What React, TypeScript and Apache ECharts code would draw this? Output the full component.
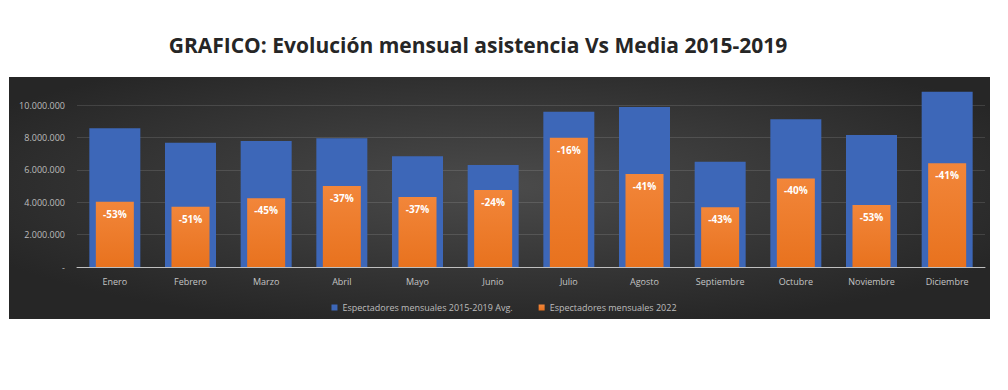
import React, { useEffect, useRef } from "react";
import * as echarts from "echarts";

const months = ["Enero", "Febrero", "Marzo", "Abril", "Mayo", "Junio", "Julio", "Agosto", "Septiembre", "Octubre", "Noviembre", "Diciembre"];
const avg2015_2019 = [8560000, 7670000, 7780000, 7940000, 6830000, 6300000, 9590000, 9880000, 6500000, 9120000, 8150000, 10820000];
const values2022 = [4030000, 3720000, 4240000, 5000000, 4320000, 4750000, 7980000, 5740000, 3690000, 5470000, 3830000, 6400000];
const pctLabels = ["-53%", "-51%", "-45%", "-37%", "-37%", "-24%", "-16%", "-41%", "-43%", "-40%", "-53%", "-41%"];
const seriesNames = ["Espectadores mensuales 2015-2019 Avg.", "Espectadores mensuales 2022"];
const titleText = "GRAFICO: Evolución mensual asistencia Vs Media 2015-2019";

const fmt = (v: number) => {
  if (v === 0) return "-";
  if (v >= 12000000) return "";
  return String(v).replace(/\B(?=(\d{3})+(?!\d))/g, ".");
};

export default function App() {
  const ref = useRef<HTMLDivElement>(null);
  useEffect(() => {
    document.body.style.margin = "0";
    const chart = echarts.init(ref.current!, null, { renderer: "svg" });
    const font = "'Open Sans', 'Liberation Sans', sans-serif";
    const gridCol = "rgba(255,255,255,0.12)";
    chart.setOption({
      animation: false,
      textStyle: { fontFamily: font },
      graphic: [
        {
          type: "rect",
          z: -10,
          silent: true,
          shape: { x: 9, y: 77, width: 981, height: 242 },
          style: {
            fill: new echarts.graphic.RadialGradient(0.5, 0.45, 0.6, [
              { offset: 0, color: "#4b4b4b" },
              { offset: 1, color: "#262626" },
            ]),
          },
        },
        {
          type: "text",
          x: 478,
          y: 45,
          style: {
            text: titleText,
            fontSize: 21,
            fontWeight: "bold",
            fill: "#262626",
            fontFamily: font,
            align: "center",
            verticalAlign: "middle",
          },
        },
      ],
      legend: {
        data: seriesNames,
        left: "center",
        top: 298,
        itemWidth: 6,
        itemHeight: 6,
        itemGap: 26,
        icon: "rect",
        textStyle: { color: "#bdbdbd", fontSize: 9, fontFamily: font },
      },
      grid: { left: 77, right: 23, top: 72.6, bottom: 123, containLabel: false },
      xAxis: [
        {
          type: "category",
          data: months,
          axisLine: { lineStyle: { color: "#bfbfbf", width: 1 } },
          axisTick: { show: false },
          axisLabel: { color: "#c4c4c4", fontSize: 9, margin: 10 },
        },
        { type: "category", data: months, show: false },
      ],
      yAxis: {
        type: "value",
        min: 0,
        max: 12000000,
        interval: 2000000,
        axisLine: { show: false },
        axisTick: { show: false },
        axisLabel: { color: "#bdbdbd", fontSize: 9, margin: 12, formatter: fmt },
        splitLine: {
          lineStyle: {
            color: [gridCol, gridCol, gridCol, gridCol, gridCol, gridCol, "rgba(0,0,0,0)"],
          },
        },
      },
      series: [
        {
          name: seriesNames[0],
          type: "bar",
          xAxisIndex: 0,
          data: avg2015_2019,
          barWidth: 51,
          itemStyle: { color: "#3d67b8" },
        },
        {
          name: seriesNames[1],
          type: "bar",
          xAxisIndex: 1,
          data: values2022,
          barWidth: 38,
          itemStyle: {
            color: new echarts.graphic.LinearGradient(0, 0, 0, 1, [
              { offset: 0, color: "#f2863a" },
              { offset: 1, color: "#e8721e" },
            ]),
          },
          label: {
            show: true,
            position: "insideTop",
            distance: 7,
            color: "#ffffff",
            fontSize: 10,
            fontWeight: "bold",
            fontFamily: font,
            formatter: (p: any) => pctLabels[p.dataIndex],
          },
        },
      ],
    });
    return () => chart.dispose();
  }, []);
  return <div ref={ref} style={{ width: 1008, height: 390 }} />;
}
